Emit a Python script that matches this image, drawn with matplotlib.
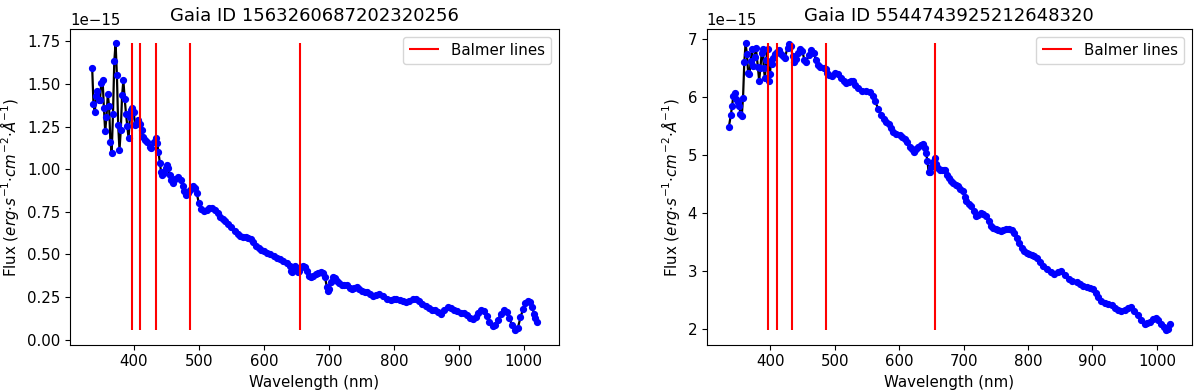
import numpy as np
import matplotlib
matplotlib.use('Agg')
import matplotlib.pyplot as plt

plt.rcParams['font.size'] = 10.8
plt.rcParams['axes.titlesize'] = 13

# Balmer lines (nm): H-epsilon, H-delta, H-gamma, H-beta, H-alpha
balmer = [397.0, 410.2, 434.0, 486.1, 656.3]

# --- Gaia ID 1563260687202320256 (flux in 1e-15 erg/s/cm2/A) ---
id_left = "1563260687202320256"
wl_left = [336, 338, 340, 342, 344, 346, 348, 350, 352, 354, 356, 358, 360, 362, 364, 366,
           368, 370, 372, 374, 376, 378, 380, 382, 384, 386, 388, 390, 392, 394, 396, 398,
           400, 402, 404, 407, 409, 412, 414, 417, 421, 425, 427, 431, 434, 436, 438, 440,
           442, 444, 446, 449, 451, 453, 455, 458, 461, 464, 468, 472, 475, 478, 481, 484,
           487, 491, 494, 497, 500, 504, 508, 512, 516, 520, 525, 529, 533, 537, 541, 545,
           550, 555, 560, 564, 568, 572, 576, 580, 584, 588, 592, 596, 600, 605, 610, 615,
           620, 625, 630, 635, 640, 642, 644, 646, 648, 650, 652, 654, 656, 658, 661, 664,
           667, 670, 673, 676, 680, 684, 688, 691, 694, 697, 699, 701, 704, 707, 710, 713,
           716, 720, 724, 728, 732, 735, 739, 743, 747, 751, 755, 759, 763, 768, 773, 778,
           783, 789, 795, 800, 804, 809, 814, 819, 824, 829, 834, 839, 844, 849, 855, 859,
           863, 868, 873, 878, 883, 888, 893, 898, 903, 908, 913, 918, 922, 926, 930, 935,
           939, 943, 947, 952, 956, 960, 965, 970, 974, 978, 982, 987, 991, 995, 999, 1002,
           1006, 1010, 1013, 1016, 1018, 1020]
flux_left = [1.594, 1.380, 1.334, 1.427, 1.458, 1.408, 1.408, 1.505, 1.524, 1.361, 1.222, 1.307,
             1.439, 1.369, 1.161, 1.097, 1.322, 1.633, 1.738, 1.555, 1.258, 1.113, 1.229, 1.433,
             1.521, 1.414, 1.326, 1.252, 1.181, 1.307, 1.350, 1.359, 1.336, 1.258, 1.268, 1.287,
             1.268, 1.229, 1.190, 1.171, 1.161, 1.132, 1.122, 1.161, 1.181, 1.151, 1.103, 1.039,
             0.986, 0.967, 0.977, 1.006, 1.025, 1.006, 0.967, 0.938, 0.918, 0.942, 0.957, 0.938,
             0.903, 0.870, 0.851, 0.860, 0.880, 0.903, 0.890, 0.860, 0.800, 0.765, 0.755, 0.758,
             0.772, 0.775, 0.763, 0.740, 0.722, 0.705, 0.694, 0.680, 0.660, 0.640, 0.622, 0.610,
             0.605, 0.602, 0.597, 0.588, 0.570, 0.550, 0.535, 0.525, 0.518, 0.508, 0.500, 0.490,
             0.480, 0.471, 0.462, 0.452, 0.433, 0.400, 0.394, 0.420, 0.433, 0.420, 0.395, 0.400,
             0.420, 0.424, 0.430, 0.424, 0.400, 0.375, 0.365, 0.372, 0.385, 0.390, 0.394, 0.392,
             0.370, 0.310, 0.288, 0.295, 0.340, 0.365, 0.362, 0.345, 0.330, 0.320, 0.322, 0.320,
             0.305, 0.297, 0.302, 0.307, 0.298, 0.288, 0.282, 0.277, 0.265, 0.255, 0.262, 0.268,
             0.255, 0.239, 0.235, 0.238, 0.239, 0.235, 0.229, 0.222, 0.228, 0.240, 0.238, 0.225,
             0.210, 0.195, 0.185, 0.175, 0.171, 0.160, 0.151, 0.172, 0.190, 0.185, 0.171, 0.165,
             0.157, 0.155, 0.145, 0.128, 0.119, 0.130, 0.155, 0.171, 0.165, 0.140, 0.105, 0.080,
             0.085, 0.115, 0.150, 0.171, 0.160, 0.125, 0.085, 0.055, 0.070, 0.130, 0.180, 0.215,
             0.229, 0.220, 0.190, 0.151, 0.125, 0.103]

# --- Gaia ID 5544743925212648320 ---
id_right = "5544743925212648320"
wl_right = [336, 339, 341, 343, 345, 347, 350, 352, 354, 356, 358, 360, 362, 364, 366, 368,
            370, 372, 374, 376, 378, 381, 383, 385, 387, 389, 390, 392, 394, 396, 398, 400,
            401, 403, 405, 408, 411, 414, 417, 420, 423, 427, 430, 432, 435, 437, 440, 444,
            447, 450, 453, 456, 460, 464, 468, 471, 474, 478, 483, 486, 489, 492, 496, 501,
            506, 510, 514, 518, 522, 526, 529, 532, 536, 542, 548, 555, 559, 563, 568, 572,
            576, 580, 584, 588, 591, 596, 601, 605, 609, 613, 617, 620, 623, 626, 630, 634,
            637, 640, 642, 644, 646, 648, 650, 653, 656, 658, 660, 663, 666, 669, 672, 675,
            677, 680, 684, 688, 691, 695, 699, 702, 704, 708, 712, 716, 719, 723, 727, 731,
            735, 739, 742, 746, 750, 754, 758, 762, 766, 771, 775, 779, 783, 786, 790, 794,
            798, 802, 806, 810, 814, 819, 824, 830, 835, 840, 846, 852, 857, 863, 869, 876,
            881, 886, 891, 896, 901, 905, 909, 914, 919, 924, 930, 935, 940, 945, 950, 955,
            960, 965, 971, 976, 981, 985, 989, 994, 998, 1002, 1007, 1011, 1014, 1017, 1020]
flux_right = [5.486, 5.685, 5.846, 6.028, 6.074, 5.971, 5.914, 5.857, 5.714, 5.668, 5.989, 6.617,
              6.931, 6.743, 6.411, 6.400, 6.630, 6.829, 6.543, 6.700, 6.846, 6.526, 6.286, 6.514,
              6.771, 6.829, 6.514, 6.331, 6.640, 6.829, 6.286, 6.400, 6.629, 6.583, 6.686, 6.743,
              6.789, 6.823, 6.743, 6.709, 6.686, 6.857, 6.926, 6.880, 6.714, 6.617, 6.657, 6.771,
              6.834, 6.800, 6.651, 6.617, 6.731, 6.823, 6.766, 6.640, 6.560, 6.526, 6.514, 6.480,
              6.423, 6.389, 6.371, 6.411, 6.400, 6.331, 6.286, 6.240, 6.257, 6.286, 6.274, 6.217,
              6.160, 6.114, 6.100, 6.086, 6.020, 5.930, 5.790, 5.690, 5.629, 5.580, 5.543, 5.470,
              5.400, 5.370, 5.343, 5.310, 5.286, 5.220, 5.143, 5.100, 5.057, 5.100, 5.143, 5.180,
              5.200, 5.120, 5.029, 4.900, 4.700, 4.700, 4.800, 4.886, 4.943, 4.850, 4.770, 4.750,
              4.743, 4.745, 4.743, 4.660, 4.600, 4.550, 4.514, 4.480, 4.457, 4.420, 4.371, 4.280,
              4.200, 4.150, 4.114, 4.030, 3.943, 3.970, 4.000, 3.980, 3.943, 3.860, 3.771, 3.740,
              3.714, 3.700, 3.686, 3.700, 3.715, 3.726, 3.700, 3.657, 3.560, 3.486, 3.400, 3.343,
              3.300, 3.286, 3.270, 3.257, 3.220, 3.143, 3.090, 3.029, 2.980, 2.943, 2.970, 3.000,
              2.930, 2.857, 2.830, 2.800, 2.770, 2.743, 2.720, 2.700, 2.686, 2.620, 2.543, 2.480,
              2.446, 2.430, 2.411, 2.360, 2.314, 2.300, 2.320, 2.350, 2.371, 2.310, 2.229, 2.150,
              2.086, 2.090, 2.114, 2.160, 2.183, 2.140, 2.086, 2.020, 1.971, 2.000, 2.086]

fig = plt.figure(figsize=(12, 3.91), dpi=100)
ax1 = fig.add_axes([0.0583, 0.1187, 0.4075, 0.807])
ax2 = fig.add_axes([0.589, 0.1187, 0.4042, 0.807])

for ax, gid, wl, fl in [(ax1, id_left, wl_left, flux_left),
                        (ax2, id_right, wl_right, flux_right)]:
    wl = np.array(wl)
    fl = np.array(fl) * 1e-15
    ax.plot(wl, fl, color='k', lw=1.6)
    ax.plot(wl, fl, 'o', color='b', markersize=4.2)
    ax.vlines(balmer, fl.min(), fl.max(), colors='r', label='Balmer lines')
    ax.set_title(f'Gaia ID {gid}')
    ax.set_xlabel('Wavelength (nm)')
    ax.set_ylabel(r'Flux ($erg{\cdot}s^{-1}{\cdot}cm^{-2}{\cdot}\AA^{-1}$)')
    ax.legend(loc='upper right')

fig.savefig('out.png', dpi=100)
